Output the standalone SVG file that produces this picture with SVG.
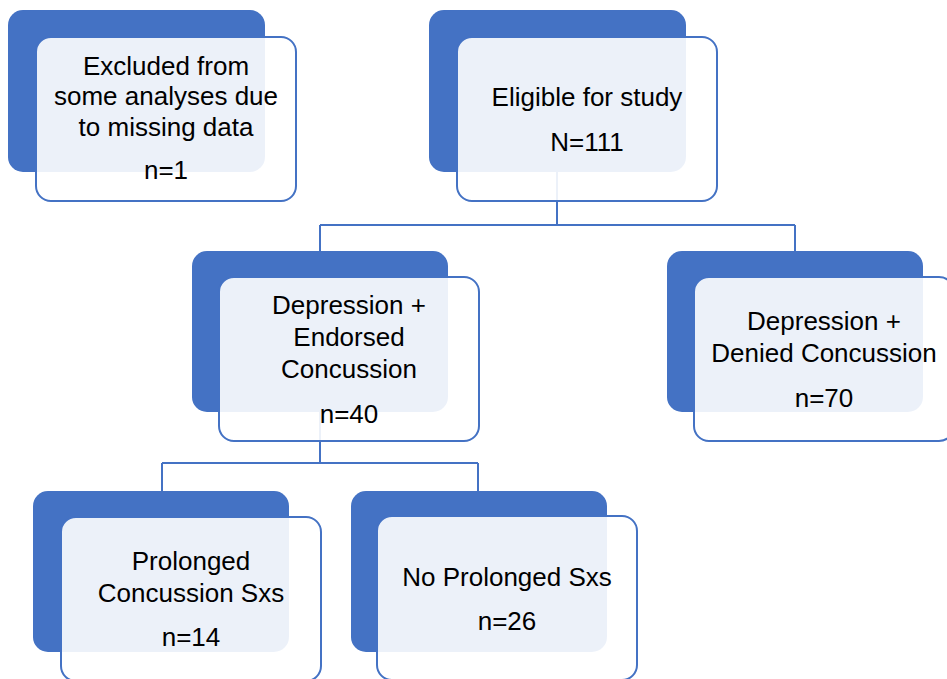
<svg xmlns="http://www.w3.org/2000/svg" width="947" height="679" viewBox="0 0 947 679">
<style>
.bg{fill:#4472C4}
.fg{fill:#FFFFFF;fill-opacity:0.9;stroke:#4472C4;stroke-width:2}
.t{font-family:"Liberation Sans",Arial,sans-serif;font-size:26px;fill:#000;text-anchor:middle}
.c{fill:none;stroke:#4472C4;stroke-width:2}
</style>
<rect width="947" height="679" fill="#FFFFFF"/>
<g id="connectors">
<path class="c" d="M557,172 V225 M320,225 H795 M320,225 V251 M795,225 V251"/>
<path class="c" d="M320,412 V463 M162,463 H478 M162,463 V491 M478,463 V491"/>
</g>
<g id="excluded">
<rect class="bg" x="8" y="10" width="257" height="162" rx="15"/>
<rect class="fg" x="36" y="37" width="260" height="164" rx="15"/>
<text class="t" x="166" y="75">Excluded from</text>
<text class="t" x="166" y="105">some analyses due</text>
<text class="t" x="166" y="136">to missing data</text>
<text class="t" x="166" y="179">n=1</text>
</g>
<g id="eligible">
<rect class="bg" x="429" y="10" width="257" height="162" rx="15"/>
<rect class="fg" x="457" y="37" width="260" height="164" rx="15"/>
<text class="t" x="587" y="106">Eligible for study</text>
<text class="t" x="587" y="151">N=111</text>
</g>
<g id="endorsed">
<rect class="bg" x="192" y="251" width="256" height="161" rx="15"/>
<rect class="fg" x="219" y="277" width="260" height="164" rx="15"/>
<text class="t" x="349" y="314">Depression +</text>
<text class="t" x="349" y="346">Endorsed</text>
<text class="t" x="349" y="378">Concussion</text>
<text class="t" x="349" y="423">n=40</text>
</g>
<g id="denied">
<rect class="bg" x="667" y="251" width="256" height="161" rx="15"/>
<rect class="fg" x="694" y="277" width="260" height="164" rx="15"/>
<text class="t" x="824" y="330">Depression +</text>
<text class="t" x="824" y="362">Denied Concussion</text>
<text class="t" x="824" y="407">n=70</text>
</g>
<g id="prolonged">
<rect class="bg" x="33" y="491" width="256" height="161" rx="15"/>
<rect class="fg" x="61" y="517" width="260" height="164" rx="15"/>
<text class="t" x="191" y="570">Prolonged</text>
<text class="t" x="191" y="602">Concussion Sxs</text>
<text class="t" x="191" y="646">n=14</text>
</g>
<g id="noprolonged">
<rect class="bg" x="351" y="491" width="256" height="161" rx="15"/>
<rect class="fg" x="377" y="516" width="260" height="164" rx="15"/>
<text class="t" x="507" y="586">No Prolonged Sxs</text>
<text class="t" x="507" y="630">n=26</text>
</g>
</svg>
